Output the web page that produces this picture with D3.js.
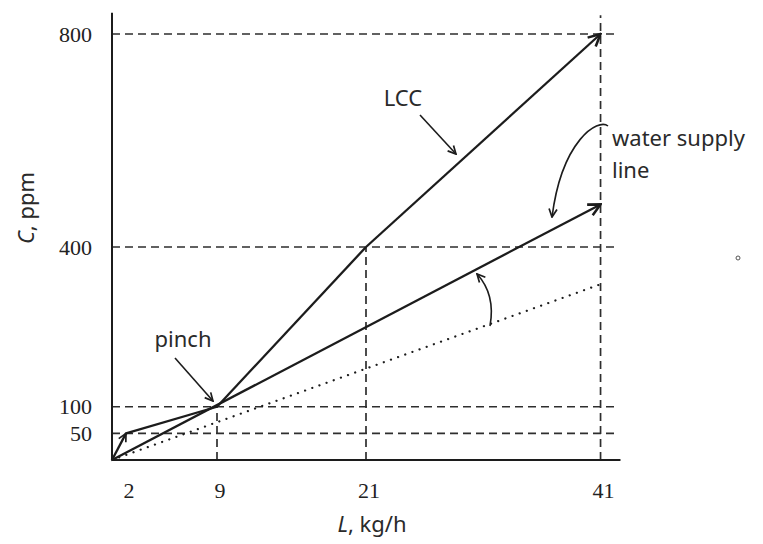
<!DOCTYPE html>
<html>
<head>
<meta charset="utf-8">
<script src="https://cdn.jsdelivr.net/npm/d3@7"></script>
<style>
    body { margin: 0; background: #fff; }
    .tick-label { font-family: 'Liberation Serif', serif; font-size: 22px; fill: #222; }
    .note { font-family: 'Noto Sans', sans-serif; font-size: 22px; fill: #2a2a2a; }
</style>
</head>
<body>
<div id="chart"></div>
<script>
// values
const xTicks = [2, 9, 21, 41]
const yTicks = [50, 100, 400, 800]
// limiting composite curve (LCC)
const lccL = [0, 2, 9, 21, 41]
const lccC = [0, 50, 100, 400, 800]
// water supply line, through the pinch
const supplyL = [0, 41]
const supplyC = [0, 480]
// rotated (dotted) supply line
const dottedL = [0, 41]
const dottedC = [0, 330]
// dashed guides: vertical drops from LCC points
const dropL = [9, 21, 41]
const dropC = [100, 400, 835]

function drawChart(d3) {
    var width = 763
    var height = 544
    var ink = '#1c1c1c'

    // the original sketch isn't drawn to scale on L, so the scale is piecewise
    var x = d3.scaleLinear().domain([0, 2, 9, 21, 43]).range([112, 126, 217, 366, 624])
    var y = d3.scaleLinear().domain([0, 800]).range([460, 34])

    var svg = d3.select('#chart')
        .append('svg')
        .attr('width', width)
        .attr('height', height)

    // arrowheads
    var defs = svg.append('defs')
    function marker(id, size) {
        defs.append('marker')
            .attr('id', id)
            .attr('viewBox', '0 0 10 10')
            .attr('refX', 9)
            .attr('refY', 5)
            .attr('markerWidth', size)
            .attr('markerHeight', size)
            .attr('markerUnits', 'userSpaceOnUse')
            .attr('orient', 'auto')
            .append('path')
            .attr('d', 'M1,1 L9,5 L1,9')
            .attr('fill', 'none')
            .attr('stroke', ink)
            .attr('stroke-width', 1.7)
    }
    marker('arrow', 15)
    marker('arrow-sm', 10)

    // dashed guides
    var guides = svg.append('g')
        .attr('stroke', '#2e2e2e')
        .attr('stroke-width', 1.7)
        .attr('stroke-dasharray', '8,5')
        .attr('fill', 'none')

    guides.selectAll('.h-guide')
        .data(yTicks)
        .enter()
        .append('line')
        .attr('x1', x(0))
        .attr('x2', x(42.5))
        .attr('y1', d => y(d))
        .attr('y2', d => y(d))

    guides.selectAll('.v-guide')
        .data(dropL)
        .enter()
        .append('line')
        .attr('x1', d => x(d))
        .attr('x2', d => x(d))
        .attr('y1', y(0))
        .attr('y2', (d, i) => y(dropC[i]))

    // axes (plain lines, no tick marks)
    svg.append('line')
        .attr('x1', x(0)).attr('x2', x(0))
        .attr('y1', y(0)).attr('y2', y(840))
        .attr('stroke', ink).attr('stroke-width', 2)
    svg.append('line')
        .attr('x1', x(0)).attr('x2', x(42.7))
        .attr('y1', y(0)).attr('y2', y(0))
        .attr('stroke', ink).attr('stroke-width', 2)

    svg.selectAll('.x-label')
        .data(xTicks)
        .enter()
        .append('text')
        .attr('class', 'tick-label')
        .attr('x', d => x(d) + 3)
        .attr('y', y(0) + 38)
        .attr('text-anchor', 'middle')
        .text(d => d)

    svg.selectAll('.y-label')
        .data(yTicks)
        .enter()
        .append('text')
        .attr('class', 'tick-label')
        .attr('x', x(0) - 20)
        .attr('y', d => y(d))
        .attr('dy', '0.35em')
        .attr('text-anchor', 'end')
        .text(d => d)

    // axis titles
    var xt = svg.append('text')
        .attr('class', 'note')
        .attr('x', 372)
        .attr('y', 532)
        .attr('text-anchor', 'middle')
    xt.append('tspan').attr('font-style', 'italic').text('L')
    xt.append('tspan').text(', kg/h')

    var yt = svg.append('text')
        .attr('class', 'note')
        .attr('transform', 'translate(34,208) rotate(-90)')
        .attr('text-anchor', 'middle')
    yt.append('tspan').attr('font-style', 'italic').text('C')
    yt.append('tspan').text(', ppm')

    var line = d3.line()
        .x(d => x(d[0]))
        .y(d => y(d[1]))

    // dotted line
    svg.append('path')
        .datum(d3.zip(dottedL, dottedC))
        .attr('d', line)
        .attr('fill', 'none')
        .attr('stroke', ink)
        .attr('stroke-width', 2.2)
        .attr('stroke-linecap', 'round')
        .attr('stroke-dasharray', '0.1,7.5')

    // water supply line
    svg.append('path')
        .datum(d3.zip(supplyL, supplyC))
        .attr('d', line)
        .attr('fill', 'none')
        .attr('stroke', ink)
        .attr('stroke-width', 2.3)
        .attr('marker-end', 'url(#arrow)')

    // LCC, drawn segment by segment so the first and last get arrowheads
    var segs = d3.pairs(d3.zip(lccL, lccC))
    svg.selectAll('.lcc')
        .data(segs)
        .enter()
        .append('path')
        .attr('d', d => line(d))
        .attr('fill', 'none')
        .attr('stroke', ink)
        .attr('stroke-width', 2.3)
        .attr('marker-end', (d, i) => i === 0 ? 'url(#arrow-sm)' : (i === segs.length - 1 ? 'url(#arrow)' : null))

    // annotations
    function note(txt, px, py, anchor) {
        svg.append('text')
            .attr('class', 'note')
            .attr('x', px)
            .attr('y', py)
            .attr('text-anchor', anchor || 'start')
            .text(txt)
    }
    function pointer(d, size) {
        svg.append('path')
            .attr('d', d)
            .attr('fill', 'none')
            .attr('stroke', ink)
            .attr('stroke-width', 1.6)
            .attr('marker-end', size === 'sm' ? 'url(#arrow-sm)' : 'url(#arrow)')
    }

    note('LCC', 403, 106, 'middle')
    pointer('M420,115 L456,154', 'sm')

    note('pinch', 183, 347, 'middle')
    pointer('M175,358 L213,401', 'sm')

    note('water supply', 612, 146)
    note('line', 612, 178)
    pointer('M608,126 C598,118 562,140 552,217', 'sm')

    pointer('M490,326 C494,304 488,286 477,274', 'sm')

    // scanner speck at right edge
    svg.append('circle')
        .attr('cx', 738).attr('cy', 258).attr('r', 2)
        .attr('fill', 'none').attr('stroke', '#555').attr('stroke-width', 1)
}

drawChart(d3)
</script>
</body>
</html>
